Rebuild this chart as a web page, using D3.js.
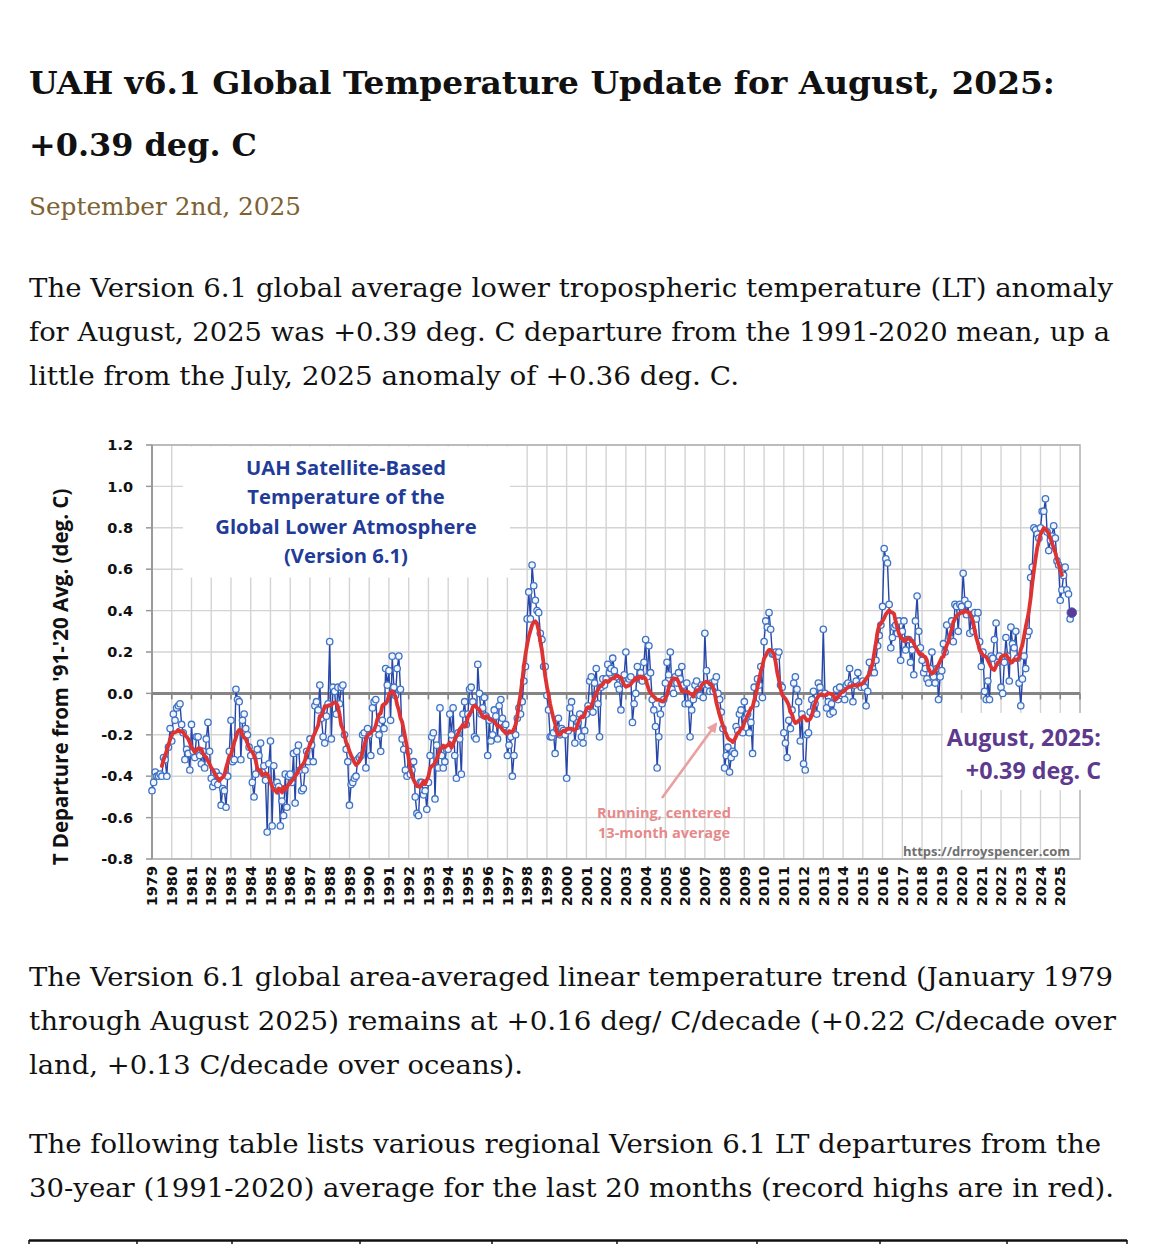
<!DOCTYPE html>
<html>
<head>
<meta charset="utf-8">
<script src="https://cdn.jsdelivr.net/npm/d3@7"></script>
<style>
  html, body { margin: 0; padding: 0; background: #fff; }
  svg { display: block; }
</style>
</head>
<body>
<svg id="page" width="1155" height="1244"></svg>
<script>
// UAH v6.1 global LT anomaly, monthly, Jan 1979 .. Aug 2025 (deg C, 1991-2020 base)
const anom1979to1988 = [
  -0.47,-0.43,-0.38,-0.40,-0.40,-0.39,-0.40,-0.31,-0.32,-0.40,-0.26,-0.17,
  -0.23,-0.10,-0.13,-0.07,-0.06,-0.05,-0.15,-0.19,-0.32,-0.27,-0.29,-0.37,
  -0.15,-0.28,-0.31,-0.21,-0.21,-0.30,-0.34,-0.28,-0.36,-0.22,-0.14,-0.28,
  -0.41,-0.45,-0.43,-0.38,-0.44,-0.40,-0.54,-0.46,-0.47,-0.55,-0.40,-0.28,
  -0.13,-0.33,-0.32, 0.02,-0.03,-0.04,-0.32,-0.13,-0.10,-0.17,-0.20,-0.26,
  -0.30,-0.43,-0.50,-0.39,-0.27,-0.30,-0.24,-0.38,-0.35,-0.42,-0.67,-0.34,
  -0.23,-0.64,-0.35,-0.44,-0.43,-0.45,-0.64,-0.52,-0.59,-0.39,-0.55,-0.40,
  -0.39,-0.43,-0.29,-0.53,-0.28,-0.25,-0.37,-0.47,-0.46,-0.37,-0.28,-0.33,
  -0.22,-0.25,-0.33,-0.06,-0.04,-0.08, 0.04,-0.12,-0.21,-0.24,-0.11,-0.05,
   0.25,-0.22, 0.03, 0.01,-0.10, 0.03,-0.05, 0.03, 0.04,-0.20,-0.27,-0.33
];
const anom1989to1998 = [
  -0.54,-0.44,-0.43,-0.41,-0.40,-0.32,-0.31,-0.30,-0.20,-0.19,-0.36,-0.17,
  -0.20,-0.30,-0.07,-0.04,-0.03,-0.17,-0.20,-0.28,-0.13,-0.17, 0.12, 0.04,
   0.11,-0.13, 0.18, 0.03,-0.01, 0.12, 0.18, 0.02,-0.22,-0.27,-0.37,-0.40,
  -0.28,-0.39,-0.37,-0.33,-0.50,-0.58,-0.59,-0.43,-0.43,-0.49,-0.47,-0.56,
  -0.43,-0.30,-0.21,-0.19,-0.51,-0.25,-0.36,-0.07,-0.30,-0.36,-0.33,-0.27,
  -0.27,-0.10,-0.20,-0.07,-0.30,-0.41,-0.19,-0.22,-0.39,-0.10,-0.04,-0.15,
  -0.10, 0.02, 0.03,-0.04,-0.21,-0.22, 0.14, 0.00,-0.10,-0.07,-0.02,-0.11,
  -0.30,-0.13,-0.23,-0.20,-0.08,-0.11,-0.22,-0.06,-0.03,-0.12,-0.16,-0.15,
  -0.30,-0.25,-0.21,-0.40,-0.30,-0.20,-0.12,-0.07,-0.10,-0.04, 0.06, 0.13,
   0.36, 0.49, 0.36, 0.62, 0.52, 0.45, 0.40, 0.39, 0.29, 0.26, 0.13, 0.13
];
const anom1999to2008 = [
  -0.01,-0.08,-0.21,-0.21,-0.19,-0.29,-0.17,-0.12,-0.20,-0.17,-0.18,-0.20,
  -0.41,-0.18,-0.07,-0.04,-0.12,-0.24,-0.16,-0.14,-0.10,-0.21,-0.24,-0.18,
  -0.10,-0.06, 0.06, 0.08,-0.09, 0.05, 0.12,-0.05,-0.21, 0.03, 0.07, 0.04,
   0.07, 0.14, 0.10, 0.12, 0.17, 0.11, 0.08, 0.04, 0.02,-0.08, 0.06, 0.09,
   0.20, 0.05, 0.07, 0.08,-0.14,-0.05, 0.00, 0.13, 0.07, 0.10, 0.06, 0.15,
   0.26, 0.08, 0.23, 0.10,-0.03,-0.08,-0.16,-0.36,-0.21,-0.10,-0.05,-0.03,
   0.05, 0.15, 0.09, 0.20, 0.02, 0.00, 0.08, 0.05, 0.10, 0.07, 0.13, 0.04,
  -0.05, 0.05,-0.05,-0.21,-0.08,-0.03, 0.04, 0.06, 0.02,-0.01, 0.04,-0.02,
   0.29, 0.11, 0.04, 0.01, 0.05, 0.01, 0.06, 0.08, 0.00,-0.03,-0.09,-0.17,
  -0.36,-0.30,-0.26,-0.38,-0.31,-0.28,-0.29,-0.16,-0.18,-0.10,-0.08,-0.19
];
const anom2009to2018 = [
  -0.04,-0.12,-0.10,-0.19,-0.14,-0.29, 0.03,-0.05, 0.07, 0.04, 0.13,-0.02,
   0.25, 0.35, 0.32, 0.39, 0.31, 0.19, 0.19, 0.20, 0.18, 0.20, 0.04, 0.03,
  -0.19,-0.24,-0.31,-0.13,-0.17,-0.08, 0.05, 0.08, 0.02,-0.04,-0.23,-0.10,
  -0.34,-0.37,-0.20,-0.19,-0.09,-0.03, 0.01,-0.05,-0.10, 0.05, 0.03, 0.00,
   0.31, 0.00,-0.07,-0.04,-0.10,-0.05,-0.09,-0.02, 0.02,-0.03, 0.03,-0.01,
   0.00,-0.03, 0.04, 0.05, 0.12, 0.04,-0.04, 0.04, 0.06, 0.10, 0.04, 0.03,
   0.06, 0.03,-0.06, 0.01, 0.15, 0.10, 0.12, 0.10, 0.16, 0.23, 0.28, 0.33,
   0.42, 0.70, 0.65, 0.63, 0.43, 0.22, 0.27, 0.32, 0.33, 0.29, 0.35, 0.16,
   0.30, 0.35, 0.21, 0.26, 0.26, 0.15, 0.21, 0.09, 0.35, 0.47, 0.30, 0.22,
   0.16, 0.10, 0.12, 0.07, 0.05, 0.12, 0.20, 0.08, 0.05, 0.12,-0.03, 0.08
];
const anom2019to2025 = [
   0.11, 0.24, 0.20, 0.33, 0.26, 0.27, 0.35, 0.25, 0.43, 0.42, 0.30, 0.43,
   0.42, 0.58, 0.45, 0.38, 0.43, 0.29, 0.38, 0.30, 0.39, 0.36, 0.39, 0.25,
   0.13, 0.20, 0.01,-0.03, 0.06,-0.03, 0.18, 0.17, 0.26, 0.34, 0.15, 0.18,
   0.03, 0.00, 0.15, 0.27, 0.18, 0.06, 0.32, 0.24, 0.22, 0.30, 0.17, 0.05,
  -0.06, 0.07, 0.18, 0.12, 0.28, 0.30, 0.56, 0.61, 0.80, 0.79, 0.77, 0.75,
   0.80, 0.88, 0.88, 0.94, 0.78, 0.69, 0.74, 0.76, 0.81, 0.75, 0.64, 0.62,
   0.45, 0.50, 0.57, 0.61, 0.50, 0.48, 0.36, 0.39
];
const startYear = 1979;
const years = d3.range(1979, 2026);
const yTicks = [1.2, 1.0, 0.8, 0.6, 0.4, 0.2, 0.0, -0.2, -0.4, -0.6, -0.8];
const boxTitle = ["UAH Satellite-Based", "Temperature of the", "Global Lower Atmosphere", "(Version 6.1)"];
const latestLabel = ["August, 2025:", "+0.39 deg. C"];
const avgNote = ["Running, centered", "13-month average"];

const anomaly = [].concat(anom1979to1988, anom1989to1998, anom1999to2008, anom2009to2018, anom2019to2025);
const series = anomaly.map((v, i) => ({ t: startYear + i / 12, v: v }));

// running, centred 13-month mean
let runAvg = [];
for (let i = 6; i < anomaly.length - 6; i++) {
  runAvg.push({ t: series[i].t, v: d3.mean(anomaly.slice(i - 6, i + 7)) });
}

const svg = d3.select("#page");
const serif = "'DejaVu Serif', 'Liberation Serif', serif";
const sans = "'Open Sans', 'DejaVu Sans', sans-serif";
const tickFont = "'DejaVu Sans', sans-serif";

function textLine(t, x, y, w, size, weight, color) {
  svg.append("text")
    .attr("x", x).attr("y", y)
    .attr("font-family", serif)
    .attr("font-size", size)
    .attr("font-weight", weight)
    .attr("fill", color)
    .attr("textLength", w)
    .attr("lengthAdjust", "spacingAndGlyphs")
    .text(t);
}

// ---- article text ----
textLine("UAH v6.1 Global Temperature Update for August, 2025:", 29, 94, 1026, 32, "bold", "#111");
textLine("+0.39 deg. C", 29, 156, 228, 32, "bold", "#111");
textLine("September 2nd, 2025", 29, 215, 272, 25, "normal", "#7d6233");

textLine("The Version 6.1 global average lower tropospheric temperature (LT) anomaly", 29, 297, 1084, 26, "normal", "#111");
textLine("for August, 2025 was +0.39 deg. C departure from the 1991-2020 mean, up a", 29, 341, 1081, 26, "normal", "#111");
textLine("little from the July, 2025 anomaly of +0.36 deg. C.", 29, 385, 710, 26, "normal", "#111");

textLine("The Version 6.1 global area-averaged linear temperature trend (January 1979", 29, 986, 1084, 26, "normal", "#111");
textLine("through August 2025) remains at +0.16 deg/ C/decade (+0.22 C/decade over", 29, 1030, 1087, 26, "normal", "#111");
textLine("land, +0.13 C/decade over oceans).", 29, 1074, 494, 26, "normal", "#111");

textLine("The following table lists various regional Version 6.1 LT departures from the", 29, 1153, 1072, 26, "normal", "#111");
textLine("30-year (1991-2020) average for the last 20 months (record highs are in red).", 29, 1197, 1085, 26, "normal", "#111");

// table top edge
const tableCols = [29, 137, 232, 360, 492, 617, 757, 880, 1007, 1127];
svg.append("line").attr("x1", 29).attr("x2", 1127).attr("y1", 1240.5).attr("y2", 1240.5)
  .attr("stroke", "#111").attr("stroke-width", 2.5);
svg.selectAll(".tcol").data(tableCols).join("line")
  .attr("x1", d => d).attr("x2", d => d).attr("y1", 1240).attr("y2", 1244)
  .attr("stroke", "#111").attr("stroke-width", 1.5);

// ---- chart ----
const x = d3.scaleLinear().domain([1979, 2026]).range([152, 1080]);
const y = d3.scaleLinear().domain([-0.8, 1.2]).range([859, 445]);
const chart = svg.append("g");

// gridlines
chart.selectAll(".vg").data(years.slice(1)).join("line")
  .attr("x1", d => x(d)).attr("x2", d => x(d))
  .attr("y1", y(1.2)).attr("y2", y(-0.8))
  .attr("stroke", "#d4d4d4").attr("stroke-width", 1.4);
chart.selectAll(".hg").data(yTicks).join("line")
  .attr("x1", x(1979) - 6).attr("x2", x(2026))
  .attr("y1", d => y(d)).attr("y2", d => y(d))
  .attr("stroke", "#d4d4d4").attr("stroke-width", 1.4);

// plot border
chart.append("rect")
  .attr("x", x(1979)).attr("y", y(1.2))
  .attr("width", x(2026) - x(1979)).attr("height", y(-0.8) - y(1.2))
  .attr("fill", "none").attr("stroke", "#b0b0b0").attr("stroke-width", 1.5);

// y axis line + ticks
chart.append("line")
  .attr("x1", x(1979)).attr("x2", x(1979)).attr("y1", y(1.2)).attr("y2", y(-0.8))
  .attr("stroke", "#9a9a9a").attr("stroke-width", 2);
chart.selectAll(".yt").data(yTicks).join("line")
  .attr("x1", x(1979) - 6).attr("x2", x(1979))
  .attr("y1", d => y(d)).attr("y2", d => y(d))
  .attr("stroke", "#9a9a9a").attr("stroke-width", 1.4);

// zero line with year ticks
chart.append("line")
  .attr("x1", x(1979)).attr("x2", x(2026)).attr("y1", y(0)).attr("y2", y(0))
  .attr("stroke", "#858585").attr("stroke-width", 3);
chart.selectAll(".zt").data(years.concat([2026])).join("line")
  .attr("x1", d => x(d)).attr("x2", d => x(d))
  .attr("y1", y(0)).attr("y2", y(0) + 6)
  .attr("stroke", "#858585").attr("stroke-width", 1.6);

// white label boxes laid over the grid
chart.append("rect").attr("x", 183).attr("y", y(1.2) + 1.5).attr("width", 327).attr("height", 131).attr("fill", "#fff");
chart.append("rect").attr("x", 943).attr("y", 713).attr("width", 162).attr("height", 77).attr("fill", "#fff");

// tick labels
chart.selectAll(".yl").data(yTicks).join("text")
  .attr("x", 133).attr("y", d => y(d)).attr("dy", "0.36em")
  .attr("text-anchor", "end")
  .attr("font-family", tickFont).attr("font-weight", "bold").attr("font-size", 14.5)
  .attr("fill", "#111")
  .text(d => d.toFixed(1));

chart.selectAll(".xl").data(years).join("text")
  .attr("transform", d => `translate(${x(d)},866) rotate(-90)`)
  .attr("dy", "0.36em")
  .attr("text-anchor", "end")
  .attr("font-family", tickFont).attr("font-weight", "bold").attr("font-size", 14.5)
  .attr("fill", "#111")
  .text(d => d);

chart.append("text")
  .attr("transform", "translate(68,677) rotate(-90)")
  .attr("text-anchor", "middle")
  .attr("font-family", sans).attr("font-weight", "bold").attr("font-size", 20.5)
  .attr("fill", "#111")
  .text("T Departure from '91-'20 Avg. (deg. C)");

// monthly series
const line = d3.line().x(d => x(d.t)).y(d => y(d.v));
chart.append("path").datum(series)
  .attr("d", line).attr("fill", "none")
  .attr("stroke", "#2646a8").attr("stroke-width", 1.4);
chart.selectAll(".pt").data(series).join("circle")
  .attr("cx", d => x(d.t)).attr("cy", d => y(d.v)).attr("r", 3.2)
  .attr("fill", "#f3f6fd").attr("stroke", "#3f73c6").attr("stroke-width", 1.3);

// running average
chart.append("path").datum(runAvg)
  .attr("d", line).attr("fill", "none")
  .attr("stroke", "#dd3333").attr("stroke-width", 3.8)
  .attr("stroke-linejoin", "round").attr("stroke-linecap", "round");

// latest month
const last = series[series.length - 1];
chart.append("circle").attr("cx", x(last.t)).attr("cy", y(last.v)).attr("r", 4.8)
  .attr("fill", "#5a3c98").attr("stroke", "#4a5ab8").attr("stroke-width", 1);

// title box text
chart.selectAll(".bt").data(boxTitle).join("text")
  .attr("x", 346).attr("y", (d, i) => 475 + i * 29.3)
  .attr("text-anchor", "middle")
  .attr("font-family", sans).attr("font-weight", "bold").attr("font-size", 20.2)
  .attr("fill", "#1f3c98")
  .text(d => d);

// latest value label
chart.selectAll(".ll").data(latestLabel).join("text")
  .attr("x", 1101).attr("y", (d, i) => 746 + i * 33)
  .attr("text-anchor", "end")
  .attr("font-family", sans).attr("font-weight", "bold").attr("font-size", 23.3)
  .attr("fill", "#5e3a8e")
  .text(d => d);

// running-mean note with arrow
const defs = svg.append("defs");
defs.append("marker").attr("id", "ah").attr("viewBox", "0 0 10 10")
  .attr("refX", 8).attr("refY", 5).attr("markerWidth", 4).attr("markerHeight", 4)
  .attr("orient", "auto")
  .append("path").attr("d", "M0,0L10,5L0,10z").attr("fill", "#eaa0a0");
chart.append("line")
  .attr("x1", 662).attr("y1", 798).attr("x2", 716).attr("y2", 724)
  .attr("stroke", "#eaa0a0").attr("stroke-width", 2.6)
  .attr("marker-end", "url(#ah)");
chart.selectAll(".an").data(avgNote).join("text")
  .attr("x", 664).attr("y", (d, i) => 818 + i * 20)
  .attr("text-anchor", "middle")
  .attr("font-family", sans).attr("font-weight", "bold").attr("font-size", 14.6)
  .attr("fill", "#e6898a")
  .text(d => d);

chart.append("text")
  .attr("x", 903).attr("y", 856)
  .attr("font-family", sans).attr("font-weight", "bold").attr("font-size", 12.5)
  .attr("fill", "#6f6f6f")
  .attr("textLength", 167).attr("lengthAdjust", "spacingAndGlyphs")
  .text("https://drroyspencer.com");
</script>
</body>
</html>
